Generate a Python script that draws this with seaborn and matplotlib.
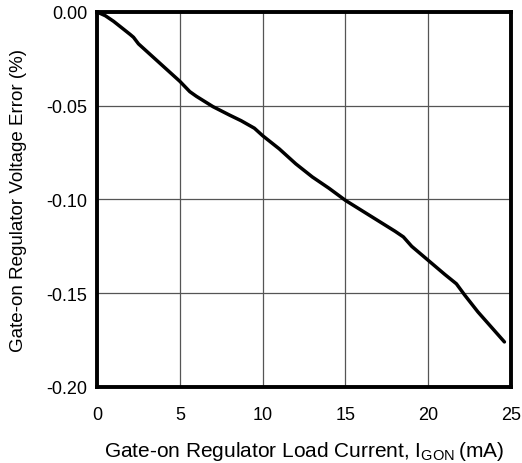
import matplotlib
matplotlib.use("Agg")
import matplotlib.pyplot as plt
import seaborn as sns
import pandas as pd

# Load current (mA) and regulator voltage error (%)
load_current = [0, 0.5, 1, 1.5, 2, 2.2, 2.5, 3, 4, 5, 5.6, 6, 7, 8, 8.7, 9.5,
                10, 11, 12, 13, 14, 15, 16, 17, 18, 18.5, 19, 20, 21, 21.7,
                22.2, 23, 24, 24.6]
voltage_error = [0, -0.002, -0.005, -0.0085, -0.012, -0.0135, -0.017, -0.021,
                 -0.029, -0.037, -0.0425, -0.045, -0.0505, -0.055, -0.058,
                 -0.062, -0.066, -0.073, -0.081, -0.088, -0.094, -0.1005,
                 -0.106, -0.1115, -0.117, -0.12, -0.125, -0.1325, -0.140,
                 -0.145, -0.151, -0.160, -0.170, -0.176]

x_ticks = [0, 5, 10, 15, 20, 25]
y_ticks = [0.00, -0.05, -0.10, -0.15, -0.20]

sns.set_theme(style="white")
plt.rcParams["font.family"] = ["Liberation Sans", "DejaVu Sans"]
plt.rcParams["mathtext.fontset"] = "custom"
plt.rcParams["mathtext.rm"] = "Liberation Sans"

df = pd.DataFrame({"current": load_current, "error": voltage_error})

fig = plt.figure(figsize=(5.22, 4.64), dpi=100)
ax = fig.add_axes([0.186, 0.164, 0.793, 0.808])

sns.lineplot(data=df, x="current", y="error", ax=ax, color="black",
             linewidth=2.5, zorder=3)

ax.set_xlim(0, 25)
ax.set_ylim(-0.20, 0.00)
ax.set_xticks(x_ticks)
ax.set_yticks(y_ticks)
ax.set_xticklabels([str(t) for t in x_ticks])
ax.set_yticklabels([f"{t:.2f}" for t in y_ticks])
ax.grid(True, color="#555555", linewidth=0.9)
ax.tick_params(length=0, labelsize=13, colors="black")
ax.tick_params(axis="x", pad=14)
ax.tick_params(axis="y", pad=7)

for sp in ax.spines.values():
    sp.set_visible(True)
    sp.set_color("black")
    sp.set_linewidth(2.8)

ax.set_xlabel(r"Gate-on Regulator Load Current, I$_\mathregular{GON}\,$(mA)",
              fontsize=15, color="black", labelpad=11)
ax.set_ylabel("Gate-on Regulator Voltage Error (%)", fontsize=13.5,
              color="black", labelpad=14)

fig.savefig("out.png", dpi=100)
